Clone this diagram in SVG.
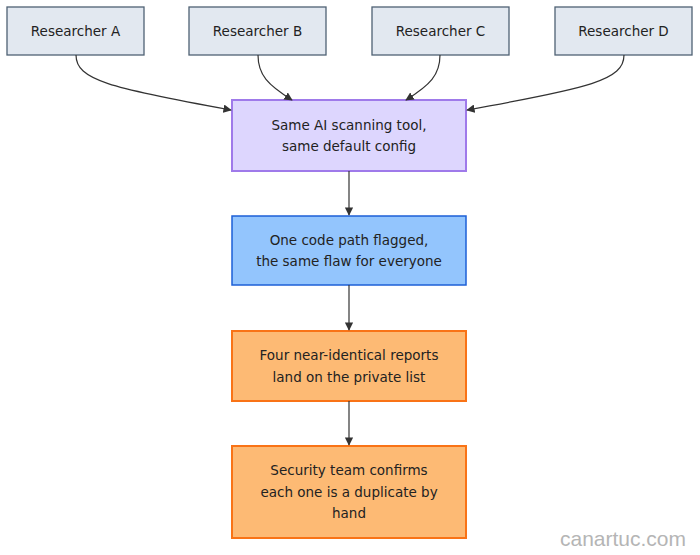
<svg xmlns="http://www.w3.org/2000/svg" width="700" height="555" viewBox="0 0 700 555">
<style>
text{font-family:"DejaVu Sans","Liberation Sans",sans-serif;font-size:13.5px;fill:#222;text-anchor:middle}
.r{fill:#e2e8f0;stroke:#4f6173;stroke-width:1.3}
.e{fill:none;stroke:#333;stroke-width:1.2}
</style>
<defs><marker id="a" viewBox="0 0 10 10" refX="9" refY="5" markerWidth="7" markerHeight="7" orient="auto"><path d="M0,0L10,5L0,10z" fill="#333"/></marker></defs>
<rect width="700" height="555" fill="#fff"/>
<g id="ra"><rect class="r" x="7" y="7" width="137" height="48"/><text x="75.5" y="36">Researcher A</text></g>
<g id="rb"><rect class="r" x="189" y="7" width="137" height="48"/><text x="257.5" y="36">Researcher B</text></g>
<g id="rc"><rect class="r" x="372" y="7" width="137" height="48"/><text x="440.5" y="36">Researcher C</text></g>
<g id="rd"><rect class="r" x="555" y="7" width="137" height="48"/><text x="623.5" y="36">Researcher D</text></g>
<g id="n1"><rect x="232" y="100" width="234" height="71" fill="#ddd6fe" stroke="#9f7aea" stroke-width="2"/><text x="349" y="130">Same AI scanning tool,</text><text x="349" y="151">same default config</text></g>
<g id="n2"><rect x="232" y="216" width="234" height="69" fill="#93c5fd" stroke="#1d5fd6" stroke-width="1.5"/><text x="349" y="245">One code path flagged,</text><text x="349" y="266">the same flaw for everyone</text></g>
<g id="n3"><rect x="232" y="331" width="234" height="70" fill="#fdba74" stroke="#f97316" stroke-width="2"/><text x="349" y="360">Four near-identical reports</text><text x="349" y="382">land on the private list</text></g>
<g id="n4"><rect x="232" y="446" width="234" height="92" fill="#fdba74" stroke="#f97316" stroke-width="2"/><text x="349" y="475">Security team confirms</text><text x="349" y="497">each one is a duplicate by</text><text x="349" y="518">hand</text></g>
<g id="edges">
<path class="e" marker-end="url(#a)" d="M76,55C76,80 110,88 231,110"/>
<path class="e" marker-end="url(#a)" d="M258,55C258,75 268,85 292,100"/>
<path class="e" marker-end="url(#a)" d="M440,55C440,75 430,85 406,100"/>
<path class="e" marker-end="url(#a)" d="M624,55C624,80 590,88 467,110"/>
<path class="e" marker-end="url(#a)" d="M349,171V215"/>
<path class="e" marker-end="url(#a)" d="M349,285V330"/>
<path class="e" marker-end="url(#a)" d="M349,401V445"/>
</g>
<text x="623" y="546" style="font-family:'Liberation Sans',sans-serif;font-size:21px;fill:#b5b5b5">canartuc.com</text>
</svg>
